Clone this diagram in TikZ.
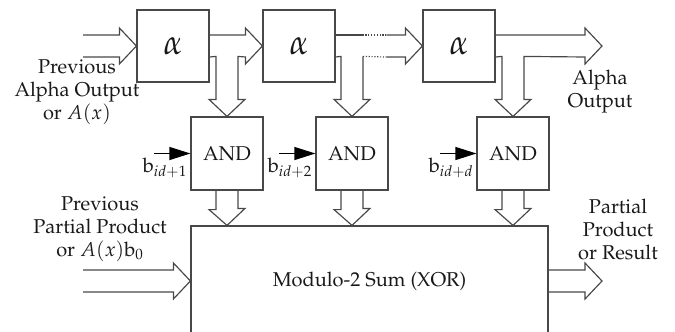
\documentclass[tikz,border=0pt]{standalone}
\usepackage[T1]{fontenc}
\usepackage{mathpazo}
\usetikzlibrary{calc,arrows.meta}
\definecolor{gfline}{RGB}{72,72,72}
\definecolor{gftext}{RGB}{25,25,25}

\begin{document}
\begin{tikzpicture}[x=0.6pt, y=-0.6pt, every node/.style={font=\fontsize{12}{13.8}\selectfont, text=gftext},
    abox/.style={draw=gfline, line width=0.7pt, minimum width=43.2pt, minimum height=43.2pt, inner sep=0pt, font=\fontsize{21}{24}\selectfont},
    andbox/.style={draw=gfline, line width=0.7pt, minimum width=43.2pt, minimum height=43.8pt, inner sep=0pt},
    xorbox/.style={draw=gfline, line width=0.7pt, minimum width=214.2pt, minimum height=66pt, inner sep=0pt},
    fat/.style={draw=gfline, line width=0.7pt, line join=miter},
    fatdots/.style={draw=gfline, line width=0.7pt, densely dotted},
    bline/.style={-{Triangle[length=12.6pt,width=7.8pt]}, line width=0.7pt, black},
    txt/.style={align=center, inner sep=0pt}]
        \useasboundingbox (0,0) rectangle (675,331);
        % alpha stages and AND gates
        \node[abox] (a1) at (173,46) {$\alpha$};
        \node[abox] (a2) at (299,46) {$\alpha$};
        \node[abox] (a3) at (459,46) {$\alpha$};
        \node[andbox] (n1) at (227,153.5) {AND};
        \node[andbox] (n2) at (352,153.5) {AND};
        \node[andbox] (n3) at (513,153.5) {AND};
        \node[xorbox] (xor) at (369.5,281) {Modulo-2 Sum (XOR)};
        \coordinate (ain) at (83,46);
        \coordinate (aout) at (602,46);
        \coordinate (pin) at (83,281);
        \coordinate (pout) at (602,281);
        % labels
        \node[txt] (prevalpha) at (77,92) {Previous\\Alpha Output\\or $A(x)$};
        \node[txt] (alphaout) at (600,92) {Alpha\\Output};
        \node[txt] (prevpart) at (100,229) {Previous\\Partial Product\\or $A(x)$b$_0$};
        \node[txt] (result) at (618,229) {Partial\\Product\\or Result};
        % hollow arrows along the alpha chain
        \draw[fat] ($(ain)+(0,-11)$) -- ($(a1.west)+(-17,-11)$) -- ++(0,-7) -- (a1.west) -- ++(-17,18) -- ++(0,-7) -- ($(ain)+(0,11)$);
        \draw[fat] ($(a1.east)+(0,-11)$) -- ($(a2.west)+(-17,-11)$) -- ++(0,-7) -- (a2.west) -- ++(-17,18) -- ++(0,-7)
            -- ($(n1.north)+(11,-60)$) -- ++(0,43) -- ++(7,0) -- (n1.north) -- ++(-18,-17) -- ++(7,0) -- ++(0,-43) -- ($(a1.east)+(0,11)$);
        \draw[fat] ($(a2.east)+(0,-11)$) -- ++(27,0);
        \draw[fatdots] ($(a2.east)+(27,-11)$) -- ($(a3.west)+(-36,-11)$);
        \draw[fatdots] ($(n2.north)+(11,-60)$) -- ($(a3.west)+(-36,11)$);
        \draw[fat] ($(a3.west)+(-36,-11)$) -- ++(19,0) -- ++(0,-7) -- (a3.west) -- ++(-17,18) -- ++(0,-7) -- ++(-19,0);
        \draw[fat] ($(n2.north)+(11,-60)$) -- ++(0,43) -- ++(7,0) -- (n2.north) -- ++(-18,-17) -- ++(7,0) -- ++(0,-43) -- ($(a2.east)+(0,11)$);
        \draw[fat] ($(a3.east)+(0,-11)$) -- ($(aout)+(-17,-11)$) -- ++(0,-7) -- (aout) -- ++(-17,18) -- ++(0,-7)
            -- ($(n3.north)+(11,-60)$) -- ++(0,43) -- ++(7,0) -- (n3.north) -- ++(-18,-17) -- ++(7,0) -- ++(0,-43) -- ($(a3.east)+(0,11)$);
        % AND outputs into the sum
        \foreach \g in {n1,n2,n3}
            \draw[fat] ($(\g.south)+(-11,0)$) -- ++(0,19) -- ++(-7,0) -- (\g.south |- xor.north) -- ++(18,-17) -- ++(-7,0) -- ++(0,-19);
        \draw[fat] ($(pin)+(0,-11)$) -- ($(xor.west)+(-17,-11)$) -- ++(0,-7) -- (xor.west) -- ++(-17,18) -- ++(0,-7) -- ($(pin)+(0,11)$);
        \draw[fat] ($(xor.east)+(0,-11)$) -- ($(pout)+(-17,-11)$) -- ++(0,-7) -- (pout) -- ++(-17,18) -- ++(0,-7) -- ($(xor.east)+(0,11)$);
        % b inputs
        \foreach \g/\k in {n1/1, n2/2, n3/d} {
            \coordinate (b\k) at ($(\g.west)+(-36,0)$);
            \draw[bline] (b\k) -- (\g.west);
            \node[txt, anchor=base west] (lb\k) at ($(\g.west)+(-48,19)$) {b$_{id+\k}$};
        }
      \end{tikzpicture}
\end{document}
